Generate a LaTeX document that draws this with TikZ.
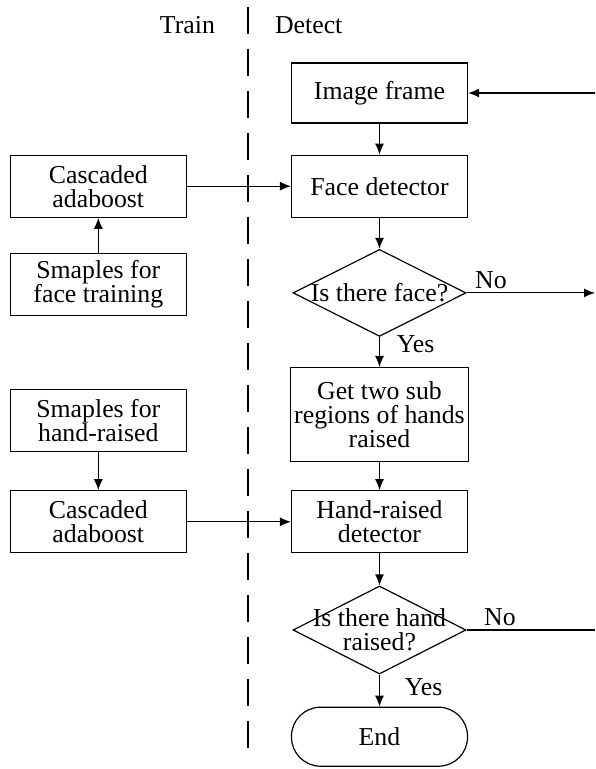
\documentclass[tikz,border=0pt]{standalone}
\usepackage{fontspec}
\setmainfont{Liberation Serif}
\usetikzlibrary{arrows.meta, positioning, shapes.geometric}

\begin{document}
\begin{tikzpicture}[
    x=0.5pt, y=-0.5pt,
    font=\fontsize{12.9}{12}\selectfont,
    node distance=16pt and 52pt,
    block/.style={draw, line width=0.6pt, align=center, minimum width=88pt, minimum height=31pt, inner sep=2pt},
    decision/.style={draw, diamond, line width=0.6pt, minimum width=86.5pt, minimum height=43.5pt, inner sep=0pt},
    terminal/.style={draw, line width=0.6pt, rounded corners=14.5pt, minimum width=88pt, minimum height=29.5pt},
    arrow/.style={-{Latex[length=5.5pt, width=4.5pt]}, line width=0.6pt},
    plain/.style={line width=0.6pt},
    split/.style={line width=1pt, dash pattern=on 13.5pt off 7.5pt}
]
\useasboundingbox (0,0) rectangle (595,769);

\coordinate (top) at (248,7);
\coordinate (bottom) at (248,755);
\coordinate (head) at (248,25);
\coordinate (edge) at (595,0);

\node[left=13pt of head] (train) {Train};
\node[right=10pt of head] (detect) {Detect};

\node[block, minimum height=30pt] (img) at (379.5,93) {Image frame};
\node[block, below=15.5pt of img] (face) {Face detector};
\node[decision, below=15.5pt of face, label={[align=center]center:Is there face?}] (qface) {};
\node[block, below=15pt of qface, minimum height=47pt] (sub) {Get two sub\\regions of hands\\raised};
\node[block, below=14pt of sub] (hand) {Hand-raised\\detector};
\node[decision, below=of hand, minimum height=44pt, label={[align=center]center:Is there hand\\raised?}] (qhand) {};
\node[terminal, below=of qhand] (end) {End};

\node[block, left=of face] (casc1) {Cascaded\\adaboost};
\node[block, below=17.5pt of casc1] (smpf) {Smaples for\\face training};
\node[block, left=of hand] (casc2) {Cascaded\\adaboost};
\node[block, above=19pt of casc2] (smph) {Smaples for\\hand-raised};

\draw[split] (top) -- (bottom);

\draw[arrow] (edge |- img) -- (img);
\draw[arrow] (img) -- (face);
\draw[arrow] (face) -- (qface);
\draw[arrow] (qface) -- node[right, pos=0.25, xshift=5pt] {Yes} (sub);
\draw[arrow] (qface) -- node[above, pos=0.19, inner sep=2pt] {No} (edge |- qface);
\draw[arrow] (sub) -- (hand);
\draw[arrow] (hand) -- (qhand);
\draw[arrow] (qhand) -- node[right, pos=0.4, xshift=9pt] {Yes} (end);
\draw[plain] (qhand) -- node[above, pos=0.26, inner sep=2pt] {No} (edge |- qhand);

\draw[arrow] (smpf) -- (casc1);
\draw[arrow] (casc1) -- (face);
\draw[arrow] (smph) -- (casc2);
\draw[arrow] (casc2) -- (hand);

\end{tikzpicture}
\end{document}
